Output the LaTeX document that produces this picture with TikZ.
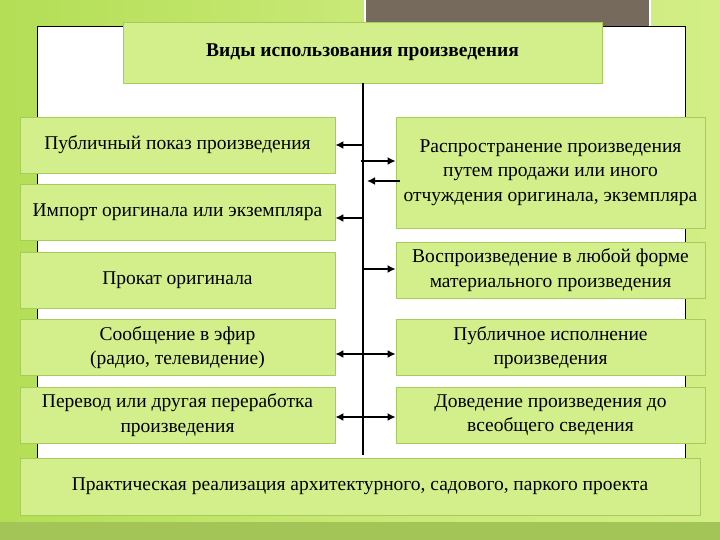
\documentclass[tikz,border=0pt]{standalone}
\usepackage{fontspec}
\setmainfont{Liberation Serif}
\definecolor{bgA}{HTML}{B3DE55}
\definecolor{bgB}{HTML}{D2EE85}
\definecolor{boxg}{HTML}{D3EF8B}
\definecolor{boxe}{HTML}{A8CC5C}
\definecolor{graybox}{HTML}{756A5C}
\tikzset{
 gbox/.style={draw=boxe,fill=boxg,line width=0.8pt,align=center,font=\fontsize{19.5}{24.5}\selectfont,inner sep=0pt},
 arr/.style={line width=1.6pt,-{Latex[length=8pt,width=8pt]}},
 darr/.style={line width=1.6pt,{Latex[length=8pt,width=8pt]}-{Latex[length=8pt,width=8pt]}}
}
\usetikzlibrary{arrows.meta}
\begin{document}
\begin{tikzpicture}[x=1pt,y=-1pt]
\useasboundingbox (0,0) rectangle (720,540);
\shade[left color=bgA,right color=bgB,middle color=bgB!70!bgA] (0,0) rectangle (720,540);
\fill[bgA!80!black!70!bgB] (0,522) rectangle (720,540);
\draw[fill=graybox,draw=white,line width=2pt] (365,-2) rectangle (650,72);
\draw[fill=white,draw=black,line width=1pt] (37,460) -- (37,27) -- (685,27) -- (685,460);
\node[gbox,minimum width=479pt,minimum height=61pt,font=\fontsize{19.5}{24}\selectfont\bfseries] (t) at (362.5,52.5) {Виды использования произведения};
\coordinate (top) at (363,83);
\coordinate (bot) at (363,455);
\draw[line width=1.5pt] (top) -- (bot);
\node[gbox,minimum width=315pt,minimum height=56pt] (l1) at (177.5,145) {Публичный показ произведения};
\node[gbox,minimum width=315pt,minimum height=56pt] (l2) at (177.5,212.5) {\raisebox{-3pt}{Импорт оригинала или экземпляра}};
\node[gbox,minimum width=315pt,minimum height=56pt] (l3) at (177.5,280.5) {\raisebox{-3pt}{Прокат оригинала}};
\node[gbox,minimum width=315pt,minimum height=56pt] (l4) at (177.5,347.5) {Сообщение в эфир\\(радио, телевидение)};
\node[gbox,minimum width=315pt,minimum height=56pt] (l5) at (177.5,415) {Перевод или другая переработка\\произведения};
\node[gbox,minimum width=309pt,minimum height=111pt] (r1) at (550.5,172.5) {Распространение произведения\\путем продажи или иного\\отчуждения оригинала, экземпляра};
\node[gbox,minimum width=309pt,minimum height=56pt] (r2) at (550.5,270) {Воспроизведение в любой форме\\материального произведения};
\node[gbox,minimum width=309pt,minimum height=56pt] (r3) at (550.5,347.5) {Публичное исполнение\\произведения};
\node[gbox,minimum width=309pt,minimum height=56pt] (r4) at (550.5,415) {Доведение произведения до\\всеобщего сведения};
\node[gbox,minimum width=680pt,minimum height=57pt] (b) at (360,486.5) {Практическая реализация архитектурного, садового, паркого проекта};
\coordinate (a1) at (363,145); \coordinate (a2) at (361,161);
\coordinate (a3) at (400,181); \coordinate (a4) at (363,218);
\coordinate (a5) at (363,269); \coordinate (a6) at (363,354); \coordinate (a7) at (363,417);
\draw[arr] (a1) -- (l1.east|-a1);
\draw[arr] (a2) -- (r1.west|-a2);
\draw[arr] (a3) -- (367,181);
\draw[arr] (a4) -- (l2.east|-a4);
\draw[arr] (a5) -- (r2.west|-a5);
\draw[darr] (l4.east|-a6) -- (r3.west|-a6);
\draw[darr] (l5.east|-a7) -- (r4.west|-a7);
\end{tikzpicture}
\end{document}
